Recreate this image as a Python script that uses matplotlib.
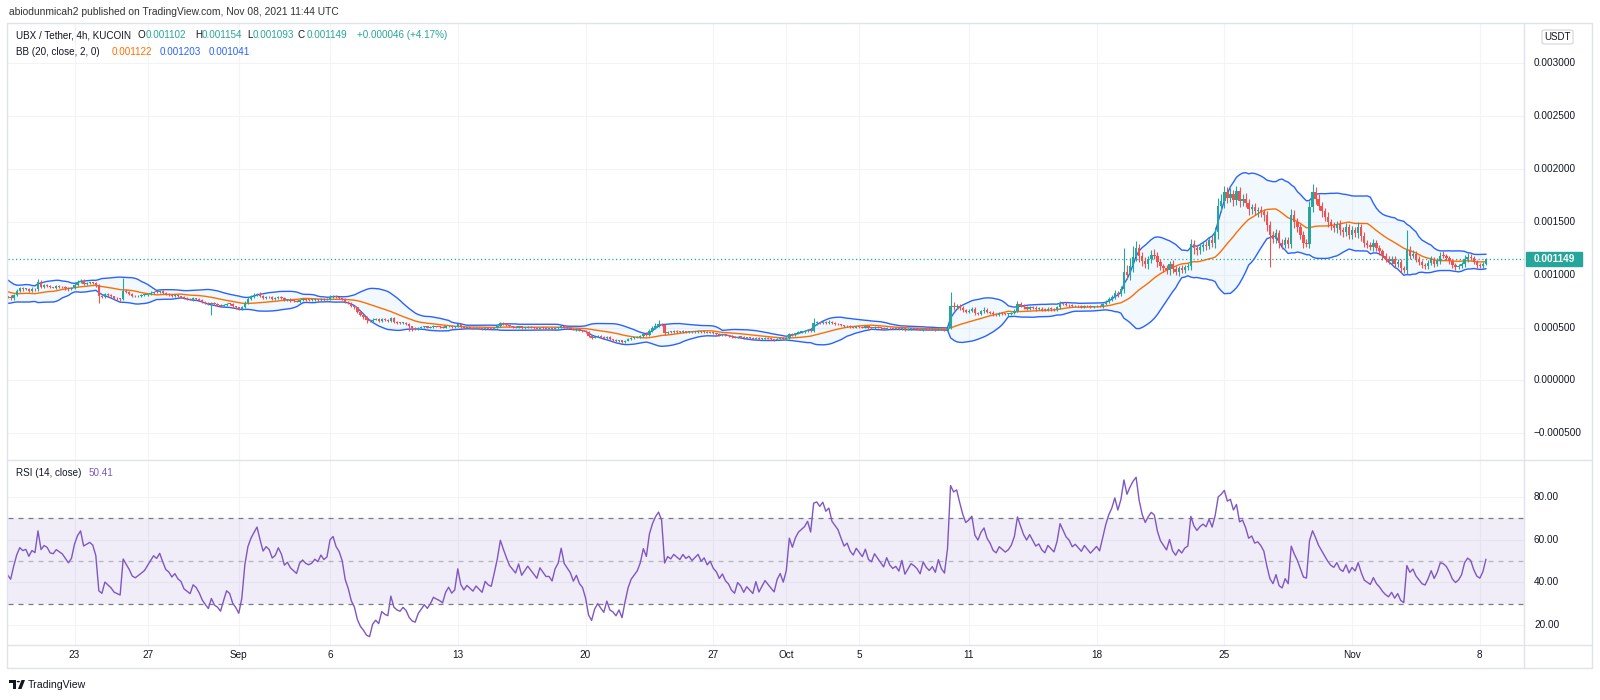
import numpy as np
import pandas as pd
import matplotlib
matplotlib.use("Agg")
import matplotlib.pyplot as plt
from matplotlib.patches import Rectangle, FancyBboxPatch, Polygon, Circle
from matplotlib.lines import Line2D

plt.rcParams['font.family'] = ['Liberation Sans', 'DejaVu Sans']

# ---------------- data (prices in millionths of USDT, 4h candles) ----------------
START = '2021-08-13 08:00'
ORIGIN = '2021-08-19 00:00'

CLOSE = [
    [860, 840, 870, 850],                      # Aug 13 (from 08:00)
    [830, 860, 880, 850, 820, 840],            # Aug 14
    [870, 850, 830, 860, 880, 900],            # Aug 15
    [920, 960, 940, 900, 870, 850],            # Aug 16
    [830, 860, 900, 880, 840, 800],            # Aug 17
    [790, 820, 850, 830, 790, 760],            # Aug 18
    [750, 790, 790, 775, 810, 845],            # Aug 19
    [870, 862, 866, 848, 865, 860],            # Aug 20
    [935, 885, 900, 895, 880, 878],            # Aug 21
    [890, 885, 880, 870, 860, 870],            # Aug 22
    [905, 930, 945, 915, 920, 925],            # Aug 23
    [920, 900, 800, 790, 815, 805],            # Aug 24
    [795, 780, 775, 770, 850, 835],            # Aug 25
    [820, 800, 795, 800, 805, 810],            # Aug 26
    [820, 830, 840, 835, 845, 830],            # Aug 27
    [815, 810, 800, 805, 795, 790],            # Aug 28
    [775, 770, 765, 775, 770, 760],            # Aug 29
    [745, 735, 725, 735, 720, 715],            # Aug 30
    [705, 715, 725, 720, 700, 690],            # Aug 31
    [675, 690, 735, 770, 790, 805],            # Sep 1
    [820, 800, 780, 790, 785, 770],            # Sep 2
    [775, 790, 780, 760, 765, 755],            # Sep 3
    [750, 745, 760, 765, 760, 758],            # Sep 4
    [760, 765, 762, 770, 765, 768],            # Sep 5
    [790, 795, 785, 780, 770, 745],            # Sep 6
    [730, 705, 690, 650, 620, 600],            # Sep 7
    [570, 560, 575, 580, 565, 580],            # Sep 8
    [570, 565, 590, 555, 545, 540],            # Sep 9
    [545, 535, 510, 495, 490, 500],            # Sep 10
    [505, 510, 500, 505, 512, 508],            # Sep 11
    [505, 500, 510, 515, 505, 508],            # Sep 12
    [530, 505, 495, 500, 495, 490],            # Sep 13
    [495, 490, 485, 495, 490, 488],            # Sep 14
    [500, 515, 540, 530, 520, 510],            # Sep 15
    [505, 500, 510, 495, 500, 505],            # Sep 16
    [500, 495, 490, 500, 495, 490],            # Sep 17
    [490, 485, 495, 500, 515, 500],            # Sep 18
    [495, 490, 480, 485, 475, 470],            # Sep 19
    [455, 420, 405, 415, 420, 410],            # Sep 20
    [400, 410, 390, 385, 375, 380],            # Sep 21
    [360, 375, 390, 400, 405, 410],            # Sep 22
    [420, 440, 430, 470, 495, 515],            # Sep 23
    [530, 520, 445, 460, 455, 465],            # Sep 24
    [460, 455, 465, 458, 462, 455],            # Sep 25
    [460, 465, 455, 460, 450, 455],            # Sep 26
    [445, 440, 430, 435, 425, 420],            # Sep 27
    [410, 405, 415, 410, 400, 405],            # Sep 28
    [400, 395, 405, 390, 395, 400],            # Sep 29
    [395, 390, 385, 395, 400, 390],            # Sep 30
    [400, 440, 430, 445, 455, 460],            # Oct 1
    [465, 475, 465, 540, 545, 540],            # Oct 2
    [555, 545, 555, 540, 535, 530],            # Oct 3
    [520, 510, 515, 505, 500, 510],            # Oct 4
    [505, 500, 510, 498, 495, 505],            # Oct 5
    [500, 495, 490, 500, 492, 488],            # Oct 6
    [490, 485, 495, 480, 485, 490],            # Oct 7
    [488, 485, 480, 490, 485, 482],            # Oct 8
    [485, 480, 490, 482, 478, 500],            # Oct 9
    [700, 690, 705, 685, 665, 650],            # Oct 10
    [660, 675, 640, 630, 655, 670],            # Oct 11
    [650, 640, 625, 620, 635, 630],            # Oct 12
    [625, 630, 640, 660, 720, 705],            # Oct 13
    [690, 680, 695, 685, 675, 680],            # Oct 14
    [670, 665, 680, 675, 670, 690],            # Oct 15
    [735, 725, 715, 710, 700, 705],            # Oct 16
    [700, 695, 705, 700, 695, 700],            # Oct 17
    [705, 700, 720, 745, 770, 790],            # Oct 18
    [830, 815, 860, 1030, 1000, 1080],         # Oct 19
    [1170, 1250, 1180, 1130, 1100, 1150],      # Oct 20
    [1190, 1180, 1120, 1080, 1060, 1040],      # Oct 21
    [1100, 1050, 1030, 1060, 1045, 1070],      # Oct 22
    [1080, 1290, 1250, 1230, 1260, 1280],      # Oct 23
    [1270, 1330, 1300, 1400, 1650, 1700],      # Oct 24
    [1780, 1730, 1760, 1710, 1790, 1700],      # Oct 25
    [1720, 1680, 1620, 1640, 1600, 1610],      # Oct 26
    [1590, 1560, 1470, 1380, 1340, 1390],      # Oct 27
    [1300, 1280, 1330, 1290, 1560, 1500],      # Oct 28
    [1450, 1380, 1300, 1290, 1640, 1780],      # Oct 29
    [1720, 1650, 1600, 1550, 1500, 1460],      # Oct 30
    [1440, 1480, 1420, 1400, 1450, 1380],      # Oct 31
    [1420, 1390, 1450, 1370, 1300, 1280],      # Nov 1
    [1260, 1300, 1250, 1220, 1180, 1150],      # Nov 2
    [1130, 1150, 1100, 1120, 1060, 1040],      # Nov 3
    [1230, 1180, 1200, 1150, 1120, 1090],      # Nov 4
    [1080, 1110, 1150, 1100, 1130, 1180],      # Nov 5
    [1175, 1160, 1130, 1090, 1070, 1080],      # Nov 6
    [1100, 1150, 1170, 1160, 1120, 1090],      # Nov 7
    [1080, 1102, 1149],                        # Nov 8 (to 08:00)
]

UPPER_WICK = [
    [10, 10, 10, 10], [10, 10, 10, 10, 10, 10], [10, 10, 10, 10, 10, 10],
    [10, 10, 10, 10, 10, 10], [10, 10, 10, 10, 10, 10], [10, 10, 10, 10, 10, 10],
    [10, 10, 10, 15, 10, 20],                  # Aug 19
    [15, 10, 12, 10, 15, 12], [25, 15, 12, 10, 10, 8], [10, 12, 8, 10, 10, 12],
    [15, 18, 12, 10, 12, 10], [10, 8, 15, 10, 12, 8], [10, 8, 10, 8, 120, 15],
    [10, 8, 8, 10, 8, 10], [10, 12, 10, 8, 10, 8], [8, 10, 8, 10, 8, 8],
    [8, 10, 8, 10, 8, 8], [10, 8, 10, 8, 10, 8], [10, 12, 10, 8, 10, 8],
    [8, 10, 15, 15, 20, 25],                   # Sep 1
    [10, 15, 10, 12, 8, 10], [12, 10, 8, 10, 8, 10], [8, 10, 8, 10, 8, 8],
    [8, 10, 8, 10, 8, 10], [20, 15, 10, 8, 10, 8], [10, 8, 10, 8, 10, 8],
    [10, 8, 15, 10, 8, 12], [10, 8, 12, 8, 10, 8], [8, 10, 8, 8, 10, 8],
    [8, 6, 8, 6, 8, 6], [6, 8, 6, 8, 6, 8], [10, 8, 6, 8, 6, 6],
    [6, 8, 6, 8, 6, 6], [8, 10, 15, 10, 8, 6], [8, 6, 8, 6, 8, 6],
    [6, 8, 6, 8, 6, 6], [6, 8, 6, 8, 10, 8], [6, 8, 6, 8, 6, 6],
    [8, 10, 8, 6, 8, 6], [8, 10, 8, 6, 8, 6], [6, 8, 8, 6, 8, 8],
    [10, 10, 15, 12, 15, 30], [40, 10, 15, 8, 10, 8], [8, 6, 8, 6, 8, 6],
    [6, 8, 6, 8, 6, 6], [6, 8, 6, 8, 6, 6], [6, 8, 6, 6, 8, 6],
    [6, 8, 6, 6, 8, 6], [6, 8, 6, 6, 8, 6],
    [8, 10, 12, 8, 10, 8],                     # Oct 1
    [8, 10, 8, 55, 15, 10], [10, 8, 12, 8, 8, 6], [8, 6, 8, 6, 8, 6],
    [6, 8, 6, 8, 6, 6], [6, 8, 6, 8, 6, 6], [6, 8, 6, 8, 6, 6],
    [6, 8, 6, 8, 6, 6], [6, 8, 6, 8, 6, 8],
    [140, 40, 20, 15, 20, 15],                 # Oct 10
    [15, 20, 15, 10, 15, 20], [15, 10, 12, 10, 15, 10], [10, 12, 10, 15, 30, 20],
    [15, 10, 12, 10, 15, 10], [10, 12, 10, 15, 10, 15], [15, 10, 12, 10, 10, 8],
    [10, 12, 10, 8, 10, 8], [10, 12, 10, 15, 15, 20],
    [25, 20, 30, 220, 60, 80],                 # Oct 19
    [100, 70, 40, 30, 40, 30], [40, 50, 30, 30, 25, 30], [30, 40, 30, 25, 30, 25],
    [30, 50, 40, 30, 40, 30], [40, 30, 40, 50, 80, 60], [60, 50, 60, 40, 50, 40],
    [40, 50, 40, 30, 40, 30], [40, 30, 40, 40, 30, 40], [30, 40, 30, 30, 60, 50],
    [40, 30, 30, 40, 60, 80], [50, 40, 40, 30, 40, 30], [40, 30, 40, 30, 40, 30],
    [40, 30, 50, 30, 30, 30],                  # Nov 1
    [30, 40, 30, 30, 25, 25], [25, 30, 25, 30, 25, 20], [190, 40, 30, 25, 25, 20],
    [20, 25, 30, 20, 25, 30], [40, 25, 20, 20, 20, 20], [20, 40, 35, 25, 20, 20],
    [20, 20, 5],                               # Nov 8
]

LOWER_WICK = [
    [10, 10, 10, 10], [10, 10, 10, 10, 10, 10], [10, 10, 10, 10, 10, 10],
    [10, 10, 10, 10, 10, 10], [10, 10, 10, 10, 10, 10], [10, 10, 10, 10, 10, 10],
    [10, 10, 15, 10, 10, 10],                  # Aug 19
    [10, 12, 10, 15, 10, 12], [10, 15, 10, 12, 10, 8], [10, 8, 10, 12, 10, 8],
    [10, 12, 10, 15, 10, 12], [10, 15, 70, 15, 10, 12], [10, 12, 10, 15, 10, 10],
    [12, 10, 8, 10, 8, 10], [8, 10, 8, 10, 8, 10], [10, 8, 10, 8, 10, 8],
    [8, 10, 8, 10, 8, 10], [10, 12, 10, 105, 10, 12], [12, 10, 8, 10, 15, 12],
    [12, 10, 8, 10, 12, 10],                   # Sep 1
    [10, 12, 10, 8, 10, 12], [10, 8, 10, 12, 8, 10], [10, 8, 10, 8, 10, 8],
    [8, 10, 8, 8, 10, 8], [8, 10, 8, 10, 12, 10], [10, 12, 10, 15, 12, 15],
    [25, 12, 10, 8, 10, 8], [8, 10, 8, 10, 8, 10], [10, 12, 40, 30, 15, 10],
    [8, 6, 8, 6, 8, 6], [6, 8, 6, 8, 6, 8], [6, 8, 6, 8, 6, 8],
    [6, 8, 6, 8, 6, 6], [6, 8, 6, 8, 6, 8], [6, 8, 6, 8, 6, 6],
    [6, 8, 6, 8, 6, 6], [6, 8, 6, 8, 6, 6], [6, 8, 6, 8, 6, 8],
    [10, 12, 10, 8, 6, 8], [8, 6, 10, 8, 10, 8], [10, 8, 6, 6, 8, 6],
    [6, 8, 8, 6, 8, 6], [8, 10, 15, 8, 10, 8], [8, 6, 8, 6, 8, 6],
    [6, 8, 6, 8, 6, 6], [6, 8, 6, 8, 6, 6], [8, 6, 8, 6, 8, 6],
    [8, 6, 8, 6, 8, 6], [8, 6, 8, 6, 8, 6],
    [8, 6, 8, 6, 8, 6],                        # Oct 1
    [8, 6, 8, 10, 12, 8], [10, 8, 10, 8, 10, 8], [8, 6, 8, 6, 8, 6],
    [6, 8, 6, 8, 6, 6], [6, 8, 6, 8, 6, 6], [6, 8, 6, 8, 6, 6],
    [6, 8, 6, 8, 6, 6], [6, 8, 6, 8, 6, 6],
    [10, 20, 15, 20, 15, 15],                  # Oct 10
    [15, 10, 20, 15, 10, 15], [15, 10, 15, 12, 10, 15], [10, 12, 10, 15, 10, 15],
    [15, 10, 12, 10, 15, 10], [10, 12, 10, 15, 10, 12], [10, 12, 10, 12, 10, 8],
    [10, 8, 10, 8, 10, 8], [8, 10, 12, 10, 15, 15],
    [20, 25, 20, 30, 40, 50],                  # Oct 19
    [50, 40, 60, 50, 40, 50], [40, 30, 50, 40, 30, 30], [40, 30, 30, 40, 30, 30],
    [30, 40, 50, 40, 30, 40], [40, 30, 40, 50, 60, 60], [70, 50, 40, 60, 50, 60],
    [50, 40, 60, 50, 40, 50], [40, 50, 60, 310, 40, 40], [50, 40, 30, 40, 40, 60],
    [50, 40, 50, 30, 40, 50], [50, 40, 50, 40, 50, 40], [40, 50, 40, 40, 30, 40],
    [40, 30, 40, 50, 40, 30],                  # Nov 1
    [30, 40, 30, 30, 40, 30], [30, 25, 30, 25, 40, 25], [30, 30, 25, 30, 25, 30],
    [30, 25, 20, 25, 20, 25], [20, 25, 30, 25, 30, 20], [20, 25, 30, 25, 20, 25],
    [20, 15, 9],                               # Nov 8
]

TICK_DATES = ['2021-08-23', '2021-08-27', '2021-09-01', '2021-09-06', '2021-09-13',
              '2021-09-20', '2021-09-27', '2021-10-01', '2021-10-05', '2021-10-11',
              '2021-10-18', '2021-10-25', '2021-11-01', '2021-11-08']
TICK_LABELS = ['23', '27', 'Sep', '6', '13', '20', '27', 'Oct', '5', '11', '18', '25', 'Nov', '8']
PRICE_TICKS = [0.003, 0.0025, 0.002, 0.0015, 0.001, 0.0005, 0.0, -0.0005]
RSI_TICKS = [80, 60, 40, 20]

HEADER = 'abiodunmicah2 published on TradingView.com, Nov 08, 2021 11:44 UTC'
RSI_VALUE_TEXT = '50.41'

# ---------------- derived series ----------------
assert all(len(a) == len(b) == len(c) for a, b, c in zip(CLOSE, UPPER_WICK, LOWER_WICK))
close = np.concatenate([np.array(r, float) for r in CLOSE]) * 1e-6
uw = np.concatenate([np.array(r, float) for r in UPPER_WICK]) * 1e-6
lw = np.concatenate([np.array(r, float) for r in LOWER_WICK]) * 1e-6
opn = np.r_[close[0], close[:-1]]
high = np.maximum(opn, close) + uw
low = np.minimum(opn, close) - lw

times = pd.date_range(START, periods=len(close), freq='4h')
org = pd.Timestamp(ORIGIN)
t = np.asarray((times - org) / pd.Timedelta(days=1), float)
tick_t = [(pd.Timestamp(d) - org) / pd.Timedelta(days=1) for d in TICK_DATES]

s = pd.Series(close)
bb_mid = s.rolling(20).mean()
bb_sd = s.rolling(20).std(ddof=0)
bb_up = bb_mid + 2 * bb_sd
bb_lo = bb_mid - 2 * bb_sd

delta = s.diff().fillna(0)
gain = delta.clip(lower=0).ewm(alpha=1 / 14, adjust=False).mean()
loss = (-delta.clip(upper=0)).ewm(alpha=1 / 14, adjust=False).mean()
rsi = 100 - 100 / (1 + gain / loss)

# ---------------- figure / layout ----------------
W, H = 1600, 700
def fx(x): return x / W
def fy(y): return 1 - y / H

fig = plt.figure(figsize=(16, 7), dpi=100)
fig.patch.set_facecolor('white')

L, R, T0, T1, T2, B = 8, 1524, 23, 460, 645, 668
ax = fig.add_axes([fx(L), fy(T1), (R - L) / W, (T1 - T0) / H])
axr = fig.add_axes([fx(L), fy(T2), (R - L) / W, (T2 - T1) / H])

XL = (0.356, 83.42)
for a in (ax, axr):
    a.set_xlim(*XL)
    a.set_facecolor('none')
    for sp in a.spines.values():
        sp.set_visible(False)
    a.set_xticks([])
    a.set_yticks([])
ax.set_ylim(-0.000753, 0.003381)
axr.set_ylim(10.6, 97.3)

GRID = '#f2f3f6'
for tt in tick_t:
    ax.axvline(tt, color=GRID, lw=0.8, zorder=0)
    axr.axvline(tt, color=GRID, lw=0.8, zorder=0)
for p in PRICE_TICKS:
    ax.axhline(p, color=GRID, lw=0.8, zorder=0)
for r in RSI_TICKS:
    axr.axhline(r, color=GRID, lw=0.8, zorder=0)

# Bollinger bands
ax.fill_between(t, bb_lo, bb_up, color='#2196f3', alpha=0.06, lw=0, zorder=1)
ax.plot(t, bb_up, color='#2962ff', lw=1, zorder=2)
ax.plot(t, bb_lo, color='#2962ff', lw=1, zorder=2)
ax.plot(t, bb_mid, color='#ff6d00', lw=1, zorder=2)

# candles
UP, DN = '#26a69a', '#ef5350'
cols = np.where(close >= opn, UP, DN)
ax.vlines(t, low, high, colors=cols, lw=0.8, zorder=3)
body_b = np.minimum(opn, close)
body_h = np.maximum(np.abs(close - opn), 8e-6)
ax.bar(t, body_h, bottom=body_b, width=0.13, color=cols, lw=0, zorder=4)

# last price dotted line
ax.axhline(close[-1], color=UP, lw=0.9, ls=(0, (1, 2)), zorder=2)

# RSI pane
axr.axhspan(30, 70, color='#7e57c2', alpha=0.1, lw=0, zorder=1)
axr.axhline(70, color='#787b86', lw=0.9, ls=(0, (4, 4)), zorder=2)
axr.axhline(30, color='#787b86', lw=0.9, ls=(0, (4, 4)), zorder=2)
axr.axhline(50, color='#787b86', lw=0.9, ls=(0, (4, 4)), alpha=0.5, zorder=2)
axr.plot(t, rsi, color='#7e57c2', lw=1, zorder=3)

# price axis labels
TXT = '#131722'
ytr = ax.get_yaxis_transform()
xlab = (1534 - L) / (R - L)
for p in PRICE_TICKS:
    lab = ('%.6f' % p).replace('-', '\u2212')
    ax.text(xlab, p, lab, transform=ytr, va='center', ha='left', fontsize=7.2, color=TXT, clip_on=False)
ytr_r = axr.get_yaxis_transform()
for r in RSI_TICKS:
    axr.text(xlab, r, '%.2f' % r, transform=ytr_r, va='center', ha='left', fontsize=7.2, color=TXT, clip_on=False)

# last price tag
x0 = (1526 - L) / (R - L)
x1 = (1582 - L) / (R - L)
hh = 0.00007
ax.add_patch(Rectangle((x0, close[-1] - hh), x1 - x0, 2 * hh, transform=ytr,
                       color=UP, clip_on=False, zorder=5))
ax.text((x0 + x1) / 2, close[-1], '%.6f' % close[-1], transform=ytr, ha='center', va='center',
        fontsize=7.2, color='white', fontweight='bold', clip_on=False, zorder=6)

# time axis labels
xtr = axr.get_xaxis_transform()
ylab = (T2 - 655) / (T2 - T1)
for tt, lab in zip(tick_t, TICK_LABELS):
    axr.text(tt, ylab, lab, transform=xtr, ha='center', va='center', fontsize=7.2, color=TXT, clip_on=False)

# frame lines
BORDER = '#e0e3eb'
fig.add_artist(Rectangle((fx(7), fy(B)), (1592 - 7) / W, (B - T0) / H, fill=False,
                         ec=BORDER, lw=1, transform=fig.transFigure))
for yy in (T1, T2):
    fig.add_artist(Line2D([fx(7), fx(1592)], [fy(yy), fy(yy)], color=BORDER, lw=1))
fig.add_artist(Line2D([fx(R), fx(R)], [fy(T0), fy(B)], color=BORDER, lw=1))

# USDT box
fig.add_artist(FancyBboxPatch((fx(1542), fy(44)), (1573 - 1542) / W, 14 / H,
                              boxstyle='round,pad=0,rounding_size=0.002', fc='white',
                              ec='#d1d4dc', lw=0.8, transform=fig.transFigure))
fig.text(fx(1557.5), fy(37), 'USDT', ha='center', va='center', fontsize=7, color=TXT)

# header & legends
fig.text(fx(9), fy(12), HEADER, va='center', ha='left', fontsize=7.4, color='#333333')
FS = 7.1
fig.text(fx(16), fy(35), 'UBX / Tether, 4h, KUCOIN', va='center', fontsize=FS, color=TXT)
for txt, xx, c in [('O', 137.5, TXT), ('0.001102', 146, UP), ('H', 195, TXT), ('0.001154', 202, UP),
                   ('L', 247, TXT), ('0.001093', 252.5, UP), ('C', 298, TXT), ('0.001149', 306.5, UP),
                   ('+0.000046 (+4.17%)', 357, UP)]:
    fig.text(fx(xx), fy(35), txt, va='center', fontsize=FS, color=c)
fig.text(fx(16), fy(52), 'BB (20, close, 2, 0)', va='center', fontsize=FS, color=TXT)
for txt, xx, c in [('0.001122', 112, '#ff6d00'), ('0.001203', 160, '#2962ff'), ('0.001041', 209, '#2962ff')]:
    fig.text(fx(xx), fy(52), txt, va='center', fontsize=FS, color=c)
fig.text(fx(16), fy(473), 'RSI (14, close)', va='center', fontsize=FS, color=TXT)
fig.text(fx(89), fy(473), RSI_VALUE_TEXT, va='center', fontsize=FS, color='#7e57c2')

# TradingView logo
def P(x, y): return (fx(x), fy(y))
fig.add_artist(Polygon([P(9, 680), P(16, 680), P(16, 689), P(13, 689), P(13, 683), P(9, 683)],
                       closed=True, fc='#131722', ec='none', transform=fig.transFigure))
fig.add_artist(Circle(P(18.3, 681.6), 1.7 / W, fc='#131722', ec='none', transform=fig.transFigure))
fig.add_artist(Polygon([P(21.5, 680), P(25, 680), P(21.5, 689), P(18, 689)],
                       closed=True, fc='#131722', ec='none', transform=fig.transFigure))
fig.text(fx(28), fy(684.5), 'TradingView', va='center', fontsize=7.6, color='#131722')

fig.savefig('out.png', dpi=100, facecolor='white')
